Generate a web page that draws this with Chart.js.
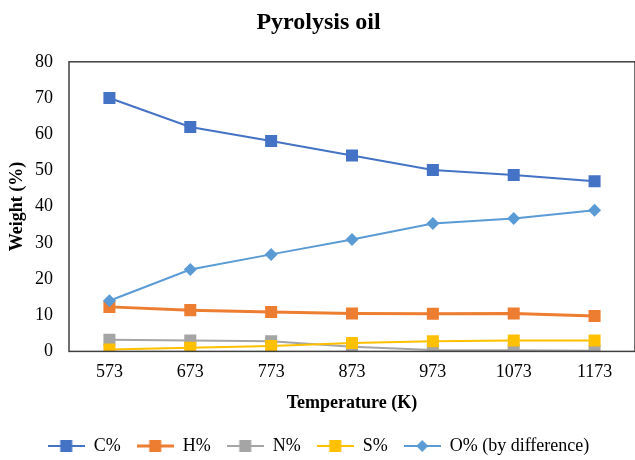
<!DOCTYPE html>
<html>
<head>
<meta charset="utf-8">
<script src="https://cdn.jsdelivr.net/npm/chart.js@4"></script>
<style>
  html, body { margin: 0; padding: 0; background: #fff; }
  #wrap { width: 635px; height: 460px; position: relative; }
</style>
</head>
<body>
<div id="wrap"><canvas id="chart"></canvas></div>
<script>
// Data
const temperatures = ["573", "673", "773", "873", "973", "1073", "1173"];
const carbon = [70.0, 62.0, 58.1, 54.1, 50.1, 48.7, 47.0];
const hydrogen = [12.3, 11.4, 10.9, 10.5, 10.4, 10.5, 9.8];
const nitrogen = [3.2, 3.0, 2.8, 1.3, 0.4, 0.3, 0.2];
const sulfur = [0.5, 1.0, 1.5, 2.3, 2.8, 3.0, 3.0];
const oxygen = [14.0, 22.6, 26.8, 30.9, 35.3, 36.7, 39.0];
const yTicks = [0, 10, 20, 30, 40, 50, 60, 70, 80];

const serif = "'Liberation Serif', 'DejaVu Serif', serif";

// small line + marker icons for the legend
function legendIcon(color, style, lineWidth) {
  const c = document.createElement("canvas");
  c.width = 37;
  c.height = 14;
  const g = c.getContext("2d");
  g.strokeStyle = color;
  g.lineWidth = lineWidth;
  g.beginPath();
  g.moveTo(0, 7);
  g.lineTo(37, 7);
  g.stroke();
  g.fillStyle = color;
  if (style === "rectRot") {
    g.beginPath();
    g.moveTo(18.5, 1);
    g.lineTo(24.5, 7);
    g.lineTo(18.5, 13);
    g.lineTo(12.5, 7);
    g.closePath();
    g.fill();
  } else {
    g.fillRect(12.5, 1, 12, 12);
  }
  return c;
}

function series(label, data, color, style, width, order) {
  return {
    label: label,
    data: data,
    borderColor: color,
    backgroundColor: color,
    borderWidth: width,
    pointStyle: style,
    pointRadius: style === "rectRot" ? 6.5 : 8.5,
    pointHoverRadius: style === "rectRot" ? 6.5 : 8.5,
    pointBorderWidth: 0,
    tension: 0,
    order: order,
  };
}

const datasets = [
  series("C%", carbon, "#4472C4", "rect", 2, 5),
  series("H%", hydrogen, "#ED7D31", "rect", 3, 4),
  series("N%", nitrogen, "#A5A5A5", "rect", 2, 3),
  series("S%", sulfur, "#FFC000", "rect", 2, 2),
  series("O% (by difference)", oxygen, "#5B9BD5", "rectRot", 2, 1),
];

// frame round the plot area
const frame = {
  id: "frame",
  afterDraw(chart) {
    const a = chart.chartArea;
    const ctx = chart.ctx;
    ctx.save();
    ctx.strokeStyle = "#404040";
    ctx.lineWidth = 1.5;
    ctx.strokeRect(a.left, a.top, a.right - a.left, a.bottom - a.top);
    ctx.restore();
  },
};

new Chart(document.getElementById("chart"), {
  type: "line",
  data: { labels: temperatures, datasets: datasets },
  plugins: [frame],
  options: {
    responsive: true,
    maintainAspectRatio: false,
    animation: false,
    layout: { autoPadding: false, padding: { left: 0, right: -2, top: 0, bottom: -5 } },
    scales: {
      x: {
        offset: true,
        afterFit(axis) {
          axis.paddingLeft = 0;
          axis.paddingRight = 0;
        },
        grid: { display: false, drawTicks: false },
        border: { display: false },
        ticks: { color: "#000", font: { family: serif, size: 18, lineHeight: 1 }, padding: 12 },
        title: {
          display: true,
          text: "Temperature (K)",
          color: "#000",
          font: { family: serif, size: 18, weight: "bold" },
          padding: { top: -1, bottom: 7 },
        },
      },
      y: {
        min: 0,
        max: 80,
        afterBuildTicks(axis) {
          axis.ticks = yTicks.map((v) => ({ value: v }));
        },
        afterFit(axis) {
          axis.width = 69;
        },
        grid: { display: false, drawTicks: false },
        border: { display: false },
        ticks: { color: "#000", font: { family: serif, size: 18 }, padding: 16 },
        title: {
          display: true,
          text: "Weight (%)",
          color: "#000",
          font: { family: serif, size: 18, weight: "bold" },
          padding: { top: 7, bottom: 0 },
        },
      },
    },
    plugins: {
      title: {
        display: true,
        text: "Pyrolysis oil",
        color: "#000",
        font: { family: serif, size: 24, weight: "bold" },
        padding: { top: 8, bottom: 25 },
      },
      legend: {
        position: "bottom",
        labels: {
          color: "#000",
          font: { family: serif, size: 18 },
          usePointStyle: true,
          pointStyleWidth: 37,
          boxHeight: 14,
          padding: 16,
          generateLabels(chart) {
            return chart.data.datasets.map((ds, i) => ({
              text: ds.label,
              fillStyle: ds.backgroundColor,
              strokeStyle: ds.borderColor,
              lineWidth: 0,
              pointStyle: legendIcon(ds.borderColor, ds.pointStyle, ds.borderWidth),
              hidden: false,
              datasetIndex: i,
            }));
          },
        },
      },
      tooltip: { enabled: false },
    },
  },
});
</script>
</body>
</html>
